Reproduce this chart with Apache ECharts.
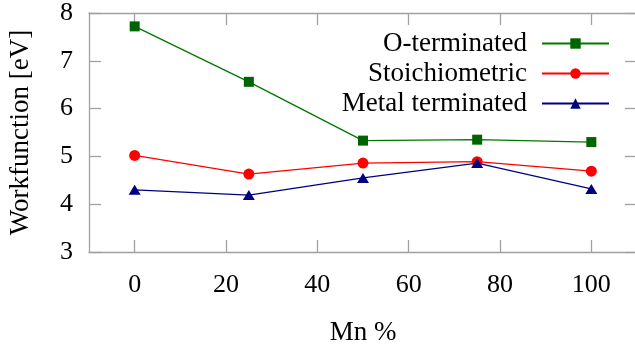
<!DOCTYPE html>
<html>
<head>
<meta charset="utf-8">
<script src="https://cdn.jsdelivr.net/npm/echarts@6/dist/echarts.min.js"></script>
<style>
  html, body { margin: 0; padding: 0; background: #fff; }
  #chart { width: 635px; height: 347px; }
</style>
</head>
<body>
<div id="chart"></div>
<script>
const mnPercent = [0, 25, 50, 75, 100];
const oTerminated = [7.72, 6.56, 5.33, 5.35, 5.30];
const stoichiometric = [5.02, 4.63, 4.86, 4.89, 4.69];
const metalTerminated = [4.30, 4.19, 4.55, 4.86, 4.32];
const xTicks = [0, 20, 40, 60, 80, 100];
const seriesNames = ['O-terminated', 'Stoichiometric', 'Metal terminated'];

const FONT = 'Liberation Serif';
const AXIS_GRAY = '#a0a0a0';

const pairs = vals => mnPercent.map((x, i) => [x, vals[i]]);

const axisBase = {
  axisLine: { show: true, onZero: false, lineStyle: { color: AXIS_GRAY, width: 1.3 } },
  axisTick: { show: true, inside: true, length: 12, lineStyle: { color: AXIS_GRAY, width: 1.3 } },
  splitLine: { show: false },
};

const chart = echarts.init(document.getElementById('chart'));

const option = {
  animation: false,
  textStyle: { fontFamily: FONT },
  grid: { left: 89, top: 13, right: -2, bottom: 95, outerBoundsMode: 'none' },
  legend: {
    data: seriesNames,
    orient: 'vertical',
    align: 'right',
    right: 20,
    top: 25,
    itemWidth: 67,
    itemHeight: 13,
    itemGap: 3,
    textStyle: { fontFamily: FONT, fontSize: 27, color: '#000', padding: [0, 10, 0, 0] },
  },
  xAxis: [
    {
      ...axisBase,
      type: 'value',
      min: -10,
      max: 110,
      position: 'bottom',
      name: 'Mn %',
      nameLocation: 'middle',
      nameGap: 67,
      nameTextStyle: { fontFamily: FONT, fontSize: 27, color: '#000' },
      axisTick: { ...axisBase.axisTick, customValues: xTicks },
      axisLabel: { customValues: xTicks, fontFamily: FONT, fontSize: 26, color: '#000', margin: 20 },
    },
    {
      ...axisBase,
      type: 'value',
      min: -10,
      max: 110,
      position: 'top',
      axisTick: { ...axisBase.axisTick, customValues: xTicks },
      axisLabel: { show: false },
    },
  ],
  yAxis: [
    {
      ...axisBase,
      type: 'value',
      min: 3,
      max: 8,
      interval: 1,
      position: 'left',
      name: 'Workfunction [eV]',
      nameLocation: 'middle',
      nameGap: 55,
      nameTextStyle: { fontFamily: FONT, fontSize: 27, color: '#000' },
      axisLabel: { fontFamily: FONT, fontSize: 26, color: '#000', margin: 16 },
    },
    {
      ...axisBase,
      type: 'value',
      min: 3,
      max: 8,
      interval: 1,
      position: 'right',
      axisLabel: { show: false },
    },
  ],
  series: [
    {
      name: seriesNames[0],
      type: 'line',
      data: pairs(oTerminated),
      symbol: 'rect',
      symbolSize: 10,
      lineStyle: { color: '#007800', width: 1.3 },
      itemStyle: { color: '#006400' },
    },
    {
      name: seriesNames[1],
      type: 'line',
      data: pairs(stoichiometric),
      symbol: 'circle',
      symbolSize: 11,
      lineStyle: { color: '#ff0000', width: 1.3 },
      itemStyle: { color: '#ff0000' },
    },
    {
      name: seriesNames[2],
      type: 'line',
      data: pairs(metalTerminated),
      symbol: 'triangle',
      symbolSize: [12, 10],
      lineStyle: { color: '#000080', width: 1.3 },
      itemStyle: { color: '#000080' },
    },
  ],
};

chart.setOption(option);
</script>
</body>
</html>
